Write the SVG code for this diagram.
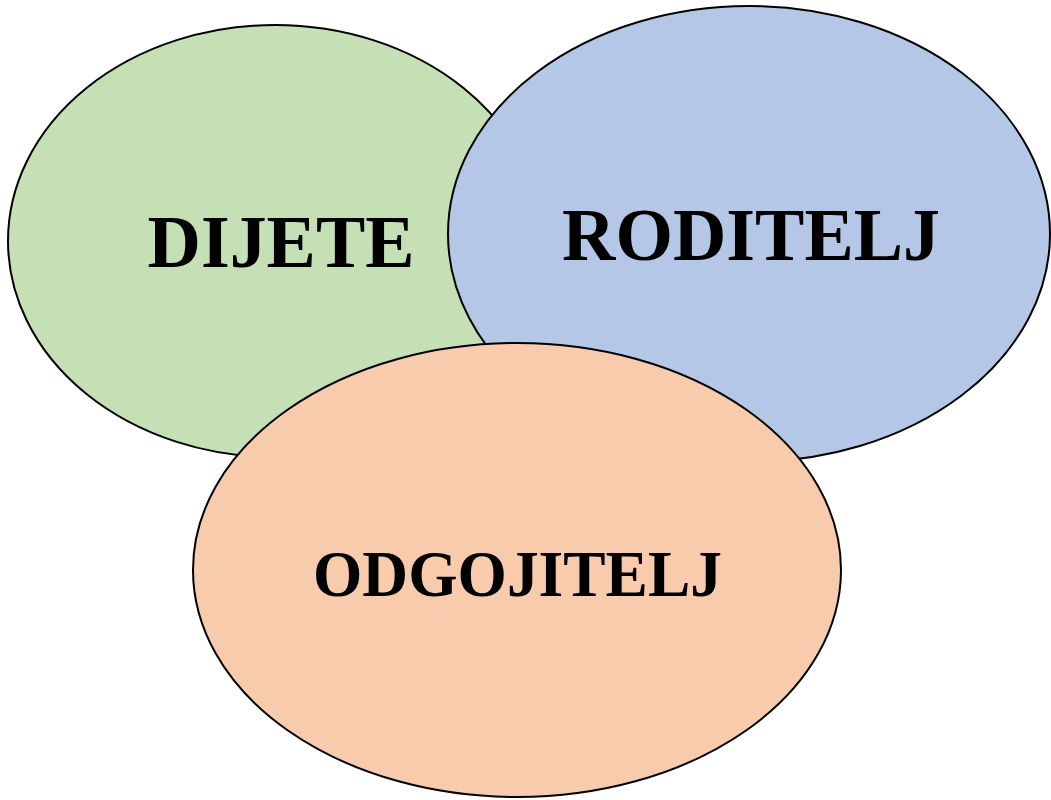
<svg xmlns="http://www.w3.org/2000/svg" width="1051" height="800" viewBox="0 0 1051 800">
<style>
.e{stroke:#000;stroke-width:2}
.t{font-family:'Liberation Serif',serif;font-weight:700;fill:#000;text-anchor:middle}
</style>
<rect width="1051" height="800" fill="#fff"/>
<g id="dijete">
<ellipse class="e" cx="275" cy="241" rx="267" ry="216" fill="#c5e0b4"/>
<text class="t" x="281" y="267" font-size="75" textLength="267" lengthAdjust="spacingAndGlyphs">DIJETE</text>
</g>
<g id="roditelj">
<ellipse class="e" cx="749" cy="234" rx="301" ry="228" fill="#b4c7e7"/>
<text class="t" x="751" y="260" font-size="74" textLength="378" lengthAdjust="spacingAndGlyphs">RODITELJ</text>
</g>
<g id="odgojitelj">
<ellipse class="e" cx="517" cy="570" rx="324" ry="227" fill="#f8cbad"/>
<text class="t" x="517.5" y="596" font-size="66" textLength="409" lengthAdjust="spacingAndGlyphs">ODGOJITELJ</text>
</g>
<g id="connectors"/>
</svg>
